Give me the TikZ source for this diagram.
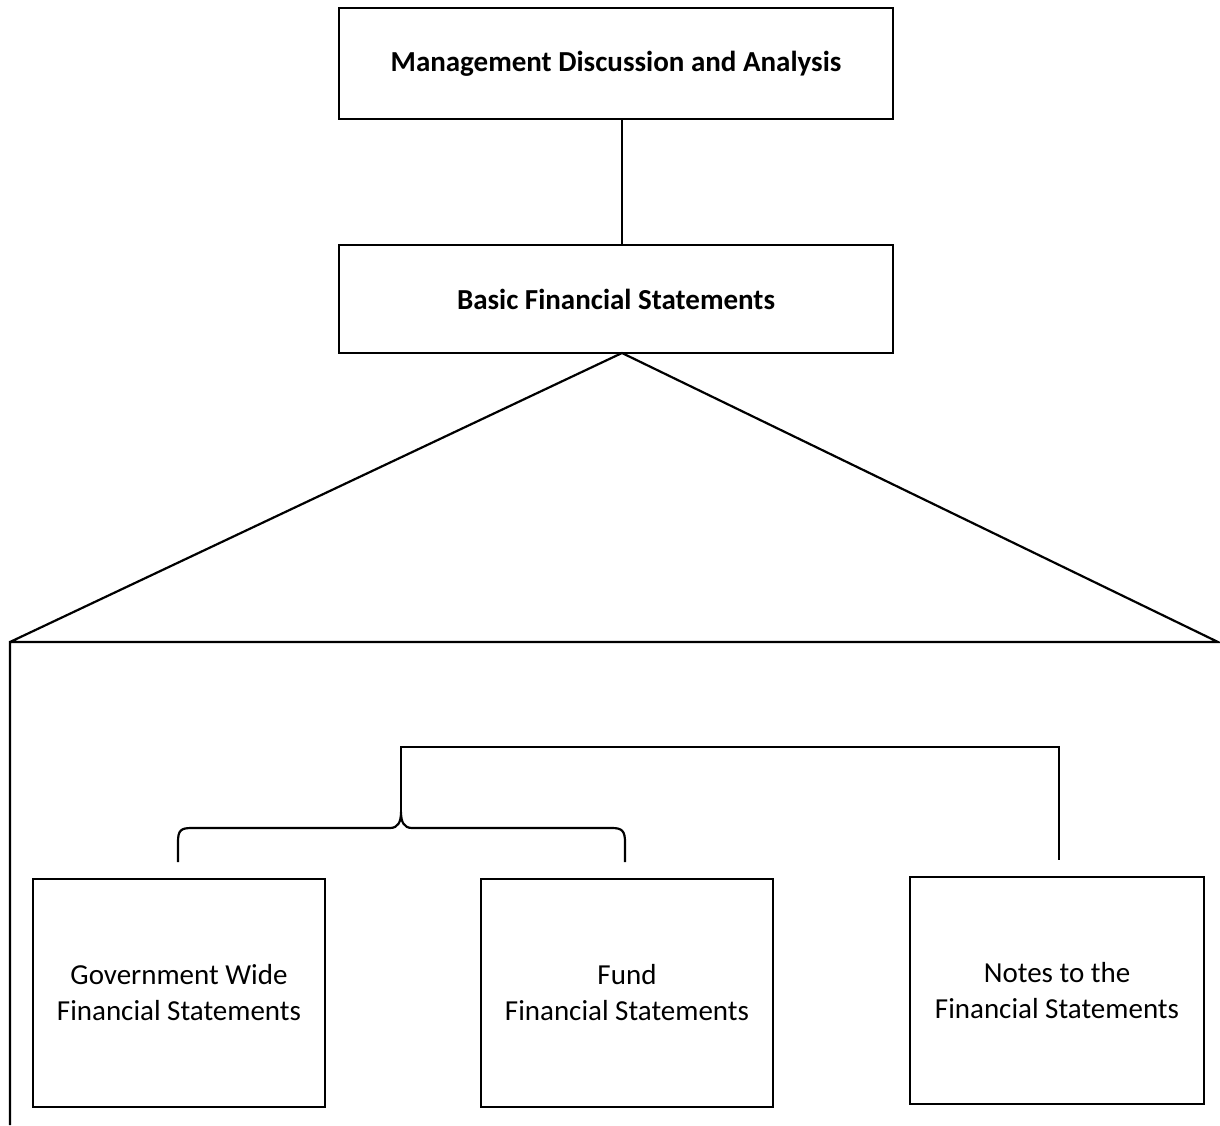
\documentclass[tikz,border=0pt]{standalone}
\usepackage{fontspec}
\setmainfont{Carlito}
\begin{document}
\begin{tikzpicture}[x=1pt,y=-1pt,
  box/.style={draw, line width=2pt, minimum width=554pt, minimum height=111pt, inner sep=0pt, font=\fontsize{29}{34}\selectfont\bfseries},
  sbox/.style={draw, line width=2pt, minimum width=292pt, minimum height=228pt, inner sep=0pt, align=center, font=\fontsize{29}{36}\selectfont},
  ln/.style={line width=2.2pt}]
\useasboundingbox (0,0) rectangle (1220,1125);
\node[box] (mda) at (616,63.5) {Management Discussion and Analysis};
\node[box, minimum height=108pt] (bfs) at (616,299) {Basic Financial Statements};
\draw[ln] (mda.south -| 622,0) -- (bfs.north -| 622,0);
\coordinate (apex) at (622,353);
\coordinate (tl) at (10,642);
\coordinate (tr) at (1218,642);
\coordinate (bl) at (10,1125);
\draw[ln, line join=miter] (tl) -- (apex) -- (tr) -- (tl) -- (bl);
\node[sbox] (gov) at (179,993) {Government Wide\\Financial Statements};
\node[sbox] (fund) at (627,993) {Fund\\Financial Statements};
\node[sbox, minimum width=294pt, minimum height=227pt] (notes) at (1057,990.5) {Notes to the\\Financial Statements};
\coordinate (btop) at (401,747);
\coordinate (btip) at (401,812);
\coordinate (bl0) at (178,862);
\coordinate (br0) at (625,862);
\coordinate (nt) at (1059,860);
\draw[ln] (btip) -- (btop) -- (btop -| nt) -- (nt);
\draw[ln] (bl0) -- (178,842) .. controls (178,830) and (181,828) .. (192,828)
  -- (390,828) .. controls (398,828) and (401,822) .. (btip)
  .. controls (401,822) and (404,828) .. (412,828)
  -- (612,828) .. controls (622,828) and (625,831) .. (625,842) -- (br0);
\end{tikzpicture}
\end{document}
